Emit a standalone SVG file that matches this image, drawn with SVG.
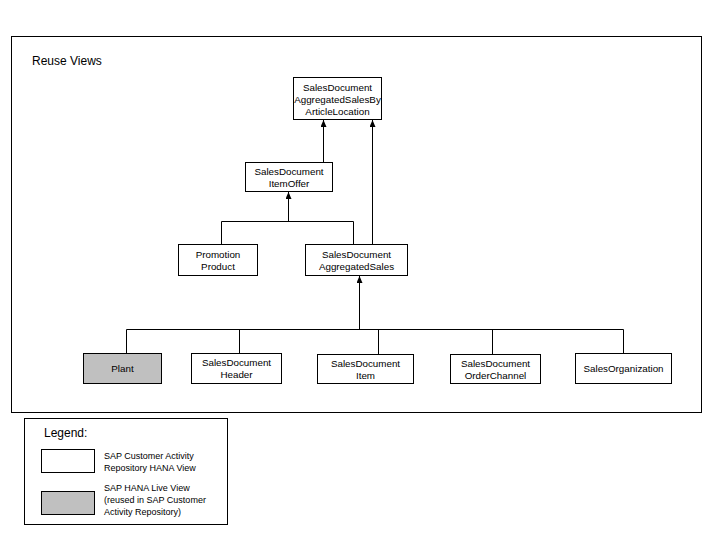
<svg xmlns="http://www.w3.org/2000/svg" width="720" height="540" viewBox="0 0 720 540">
<style>
.box{fill:#fff;stroke:#000;stroke-width:1}
.grey{fill:#c0c0c0;stroke:#000;stroke-width:1}
.t{font-family:"Liberation Sans",Arial,sans-serif;font-size:9.8px;fill:#000;text-anchor:middle}
.lt{font-family:"Liberation Sans",Arial,sans-serif;font-size:9px;fill:#000}
.h{font-family:"Liberation Sans",Arial,sans-serif;font-size:12px;fill:#000}
.c{fill:none;stroke:#000;stroke-width:1}
</style>
<defs>
<marker id="arr" markerWidth="7" markerHeight="6" refX="7" refY="3" orient="auto" markerUnits="userSpaceOnUse" viewBox="0 0 7 6">
<path d="M0,0 L7,3 L0,6 Z" fill="#000"/>
</marker>
</defs>
<rect x="0" y="0" width="720" height="540" fill="#fff"/>
<g id="frame">
<rect x="11.5" y="36.5" width="690" height="376" class="box"/>
<text x="32" y="65" class="h">Reuse Views</text>
</g>
<g id="connectors">
<path class="c" d="M323.5,162 V120" marker-end="url(#arr)"/>
<path class="c" d="M372.5,245 V120" marker-end="url(#arr)"/>
<path class="c" d="M221.5,245 V221.5 H353.5 V245"/>
<path class="c" d="M288.5,221.5 V192" marker-end="url(#arr)"/>
<path class="c" d="M126.5,353 V329.5 H623.5 V353"/>
<path class="c" d="M239.5,329.5 V353"/>
<path class="c" d="M378.5,329.5 V354"/>
<path class="c" d="M492.5,329.5 V354"/>
<path class="c" d="M359.5,329.5 V276" marker-end="url(#arr)"/>
</g>
<g id="n-top">
<rect x="293.5" y="77.5" width="88" height="42" class="box"/>
<text class="t" x="337.5" y="91">SalesDocument</text>
<text class="t" x="337.5" y="103">AggregatedSalesBy</text>
<text class="t" x="337.5" y="115">ArticleLocation</text>
</g>
<g id="n-itemoffer">
<rect x="245.5" y="162.5" width="87" height="29" class="box"/>
<text class="t" x="289" y="175">SalesDocument</text>
<text class="t" x="289" y="187">ItemOffer</text>
</g>
<g id="n-promotion">
<rect x="178.5" y="244.5" width="79" height="31" class="box"/>
<text class="t" x="218" y="258">Promotion</text>
<text class="t" x="218" y="270">Product</text>
</g>
<g id="n-aggsales">
<rect x="305.5" y="244.5" width="102" height="31" class="box"/>
<text class="t" x="356.5" y="258">SalesDocument</text>
<text class="t" x="356.5" y="270">AggregatedSales</text>
</g>
<g id="n-plant">
<rect x="83.5" y="353.5" width="78" height="30" class="grey"/>
<text class="t" x="122.5" y="372">Plant</text>
</g>
<g id="n-header">
<rect x="191.5" y="353.5" width="90" height="30" class="box"/>
<text class="t" x="236.5" y="366">SalesDocument</text>
<text class="t" x="236.5" y="378">Header</text>
</g>
<g id="n-item">
<rect x="317.5" y="354.5" width="96" height="29" class="box"/>
<text class="t" x="365.5" y="367">SalesDocument</text>
<text class="t" x="365.5" y="379">Item</text>
</g>
<g id="n-orderchannel">
<rect x="450.5" y="354.5" width="90" height="29" class="box"/>
<text class="t" x="495.5" y="367">SalesDocument</text>
<text class="t" x="495.5" y="379">OrderChannel</text>
</g>
<g id="n-salesorg">
<rect x="575.5" y="353.5" width="96" height="30" class="box"/>
<text class="t" x="623.5" y="372">SalesOrganization</text>
</g>
<g id="legend">
<rect x="24.5" y="418.5" width="203" height="106" class="box"/>
<text x="44" y="437" class="h">Legend:</text>
<rect x="41.5" y="449.5" width="53" height="23" class="box"/>
<text class="lt" x="104" y="459">SAP Customer Activity</text>
<text class="lt" x="104" y="471">Repository HANA View</text>
<rect x="41.5" y="491.5" width="53" height="23" class="grey"/>
<text class="lt" x="104" y="491">SAP HANA Live View</text>
<text class="lt" x="104" y="503">(reused in SAP Customer</text>
<text class="lt" x="104" y="515">Activity Repository)</text>
</g>
</svg>
